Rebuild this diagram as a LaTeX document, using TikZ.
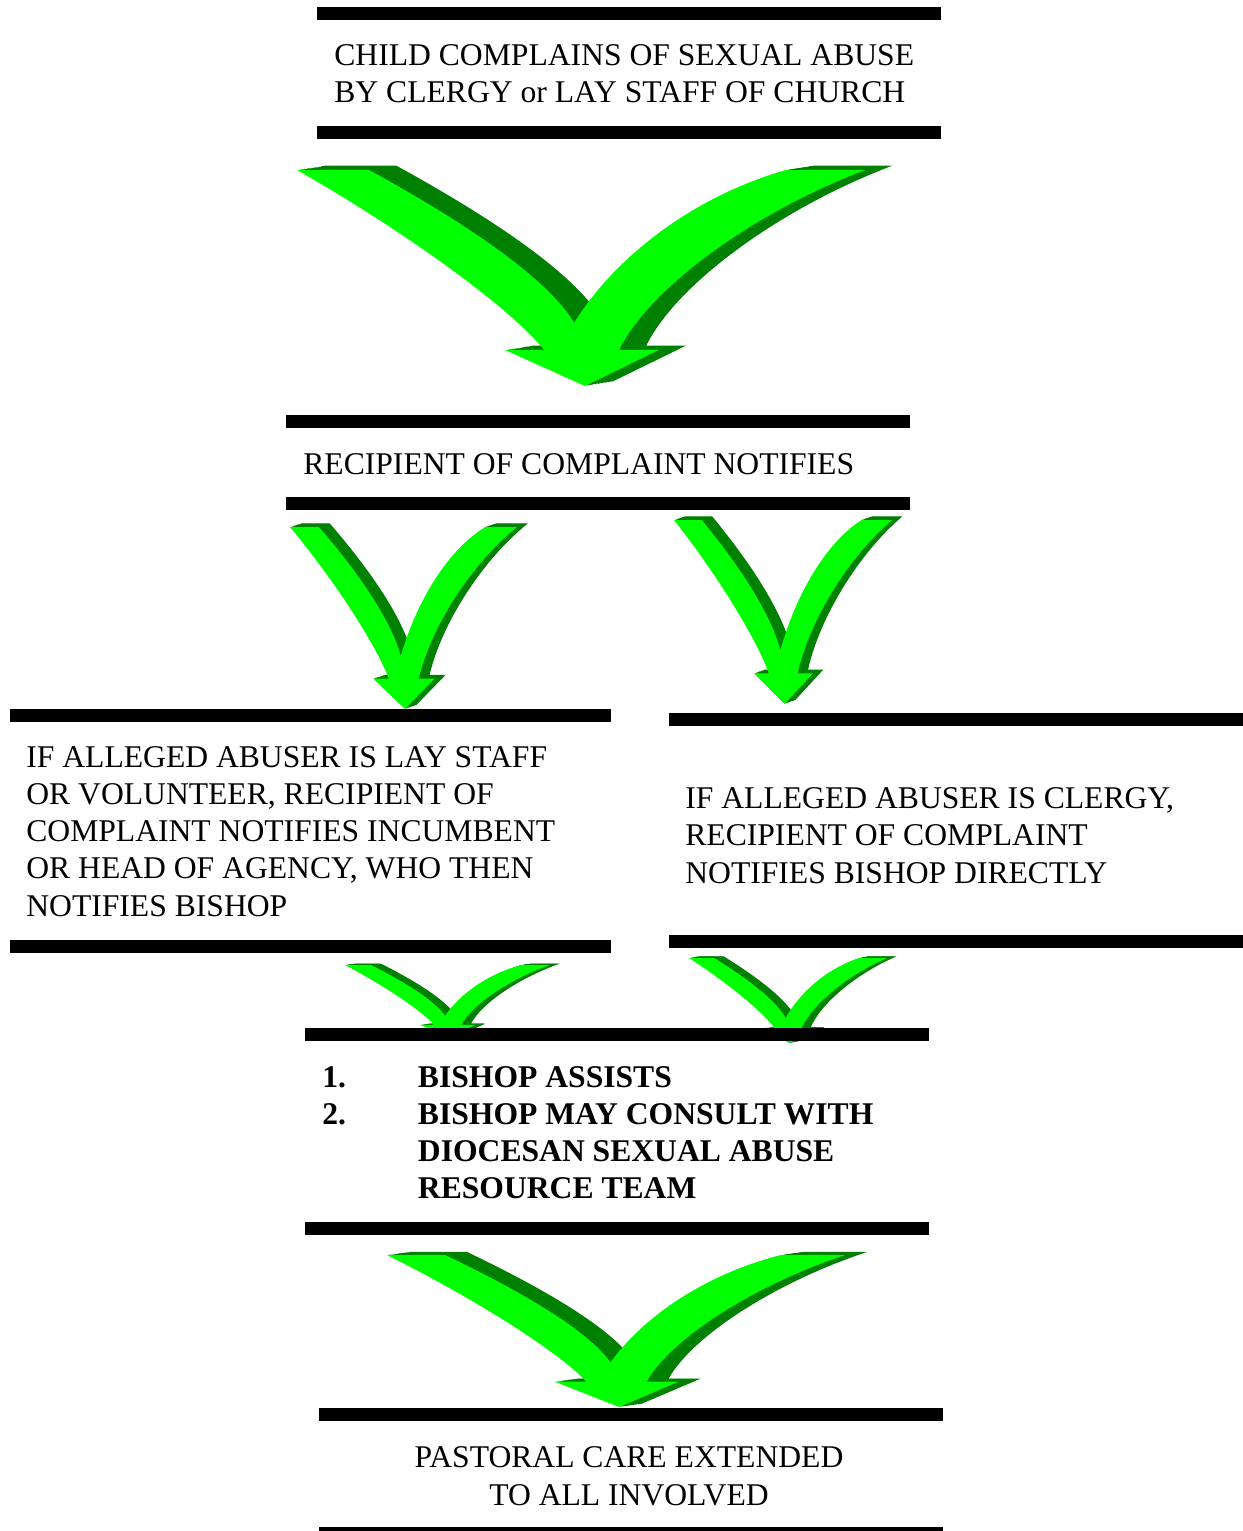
\documentclass[tikz,border=0pt]{standalone}
\usepackage{fontspec}
\setmainfont{Liberation Serif}
\usepackage{tikz}
\definecolor{VeeLight}{HTML}{00FF00}
\definecolor{VeeDark}{HTML}{008000}
% unit outline of the green double arrow, y runs downwards
\newcommand\veepath{(0,0) -- (0.127,0) .. controls (0.30,0.25) and (0.44,0.50) .. (0.488,0.708)
  .. controls (0.56,0.40) and (0.70,0.12) .. (0.861,0) -- (1,0)
  .. controls (0.80,0.20) and (0.62,0.55) .. (0.567,0.833) -- (0.637,0.833) -- (0.507,1)
  -- (0.366,0.833) -- (0.435,0.833) .. controls (0.38,0.65) and (0.20,0.30) .. (0,0) -- cycle}
\tikzset{
  steptext/.style={font=\fontsize{18}{21.1}\selectfont, inner sep=0pt, align=left},
  rulebar/.style={line width=0.26cm, draw=black},
  vee/.pic={
    \foreach \s in {1,...,8}
      \fill[VeeDark, shift={({\s*0.006},{-\s*0.0025})}] \veepath;
    \fill[VeeLight] \veepath;
  }
}
\begin{document}
\begin{tikzpicture}[x=0.02cm, y=-0.02cm]
\useasboundingbox (0,0) rectangle (1243,1531);
% arrows
\pic[xscale=568, yscale=216] at (297,170) {vee};
\pic[xscale=227, yscale=182] at (290,527) {vee};
\pic[xscale=218, yscale=184] at (674,520) {vee};
\pic[xscale=205, yscale=72] at (345,965) {vee};
\pic[xscale=198, yscale=85] at (689,958) {vee};
\pic[xscale=458, yscale=152] at (387,1255) {vee};
% bars
\draw[rulebar] (317,13.5) -- (941,13.5);
\draw[rulebar] (317,132.5) -- (941,132.5);
\draw[rulebar] (286,421.5) -- (910,421.5);
\draw[rulebar] (286,503.5) -- (910,503.5);
\draw[rulebar] (10,715.5) -- (611,715.5);
\draw[rulebar] (10,946.5) -- (611,946.5);
\draw[rulebar] (669,719.5) -- (1243,719.5);
\draw[rulebar] (669,941.5) -- (1243,941.5);
\draw[rulebar] (305,1034.5) -- (929,1034.5);
\draw[rulebar] (305,1228.5) -- (929,1228.5);
\draw[rulebar] (319,1414.5) -- (943,1414.5);
\draw[rulebar] (319,1533.5) -- (943,1533.5);
% texts (base = last line)
\node[steptext, anchor=base west] (child) at (334,103) {CHILD COMPLAINS OF SEXUAL ABUSE\\BY CLERGY or LAY STAFF OF CHURCH};
\node[steptext, anchor=base west] (recipient) at (303,474) {RECIPIENT OF COMPLAINT NOTIFIES};
\node[steptext, anchor=base west] (layside) at (26,916) {IF ALLEGED ABUSER IS LAY STAFF\\OR VOLUNTEER, RECIPIENT OF\\COMPLAINT NOTIFIES INCUMBENT\\OR HEAD OF AGENCY, WHO THEN\\NOTIFIES BISHOP};
\node[steptext, anchor=base west] (clergyside) at (685,883) {IF ALLEGED ABUSER IS CLERGY,\\RECIPIENT OF COMPLAINT\\NOTIFIES BISHOP DIRECTLY};
\node[steptext, anchor=base west, font=\fontsize{18}{21.1}\selectfont\bfseries] (bishop) at (322,1087)
  {\begin{tabular}[t]{@{}p{54.4pt}@{}l@{}}1. & BISHOP ASSISTS\\2. & BISHOP MAY CONSULT WITH\\ & DIOCESAN SEXUAL ABUSE\\ & RESOURCE TEAM\end{tabular}};
\node[steptext, align=center, anchor=base] (care) at (629,1505) {PASTORAL CARE EXTENDED\\TO ALL INVOLVED};
\end{tikzpicture}
\end{document}
